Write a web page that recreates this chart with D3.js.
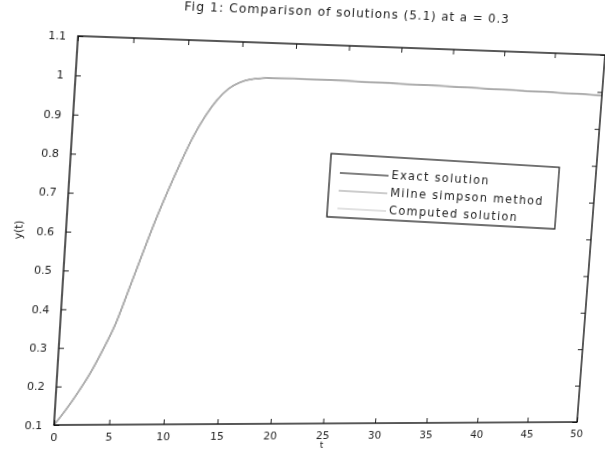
<!DOCTYPE html>
<html>
<head>
<meta charset="utf-8">
<script src="https://cdn.jsdelivr.net/npm/d3@7"></script>
<style>
html,body{margin:0;padding:0;background:#fff;overflow:hidden;width:605px;height:449px;}
#wrap{position:absolute;left:0;top:0;width:605px;height:449px;transform-origin:0 0;}
svg{overflow:visible;}
text{font-family:"DejaVu Sans",Arial,sans-serif;fill:#222;}
</style>
</head>
<body>
<div id="wrap"></div>
<script>
// ---- data ----
const tValues   = [0,1,2,3,4,5,6,7,8,9,10,11,12,13,14,15,16,18,20,22,25,30,35,40,45,50];
const exactSol  = [0.10,0.14,0.185,0.235,0.295,0.362,0.45,0.54,0.628,0.708,0.782,0.85,0.905,0.948,0.978,0.995,1.004,1.009,1.01,1.009,1.008,1.005,1.002,0.998,0.995,0.991];
const milneSol  = [0.10,0.14,0.185,0.235,0.295,0.362,0.45,0.54,0.628,0.708,0.782,0.85,0.905,0.948,0.978,0.995,1.004,1.009,1.01,1.009,1.008,1.005,1.002,0.998,0.995,0.991];
const computedSol = [0.10,0.14,0.185,0.235,0.295,0.362,0.45,0.54,0.628,0.708,0.782,0.85,0.905,0.948,0.978,0.995,1.004,1.009,1.01,1.009,1.008,1.005,1.002,0.998,0.995,0.991];
const xTicks = [0,5,10,15,20,25,30,35,40,45,50];
const yTicks = [0.1,0.2,0.3,0.4,0.5,0.6,0.7,0.8,0.9,1.0,1.1];
const seriesNames = ["Exact solution","Milne simpson method","Computed solution"];
const seriesColors = ["#000000","#9a9a9a","#c4c4c4"];
const titleText = "Fig 1: Comparison of solutions (5.1) at a = 0.3";

// ---- layout (flat, before the scan-like perspective) ----
const W = 605, H = 449;
const L = 66, R = 591, T = 40, B = 424;

const svg = d3.select("#wrap").append("svg").attr("width", W).attr("height", H);
const x = d3.scaleLinear().domain([0,50]).range([L,R]);
const y = d3.scaleLinear().domain([0.1,1.1]).range([B,T]);

// lines
const series = [exactSol, milneSol, computedSol];
const widths = [1.0, 1.3, 1.7];
const line = d3.line().x((d,i)=>x(tValues[i])).y(d=>y(d)).curve(d3.curveMonotoneX);
series.forEach((s,k)=>{
  svg.append("path").datum(s).attr("d", line)
    .attr("fill","none").attr("stroke", k===2 ? "#b0b0b0" : seriesColors[k]).attr("stroke-width", widths[k]);
});

// axes (MATLAB style, ticks inside on all sides)
const fmtY = d => d === 1 ? "1" : d3.format(".1f")(d);
const gB = svg.append("g").attr("transform",`translate(0,${B})`)
  .call(d3.axisBottom(x).tickValues(xTicks).tickSizeInner(-5).tickSizeOuter(0).tickPadding(9));
const gT = svg.append("g").attr("transform",`translate(0,${T})`)
  .call(d3.axisTop(x).tickValues(xTicks).tickSizeInner(-5).tickSizeOuter(0).tickFormat(""));
const gL = svg.append("g").attr("transform",`translate(${L},0)`)
  .call(d3.axisLeft(y).tickValues(yTicks).tickSizeInner(-5).tickSizeOuter(0).tickPadding(11).tickFormat(fmtY));
const gR = svg.append("g").attr("transform",`translate(${R},0)`)
  .call(d3.axisRight(y).tickValues(yTicks).tickSizeInner(-5).tickSizeOuter(0).tickFormat(""));
[gB,gT,gL,gR].forEach(g=>{
  g.select(".domain").remove();
  g.selectAll(".tick line").attr("stroke","#222").attr("stroke-width",1);
  g.selectAll(".tick text").attr("font-size",10.5).attr("font-family","DejaVu Sans, Arial, sans-serif").attr("fill","#222");
});
svg.append("rect").attr("x",L).attr("y",T).attr("width",R-L).attr("height",B-T)
  .attr("fill","none").attr("stroke","#111").attr("stroke-width",1.4);

// title and axis labels
svg.append("text").attr("x",327).attr("y",11).attr("text-anchor","middle")
  .attr("font-size",12).attr("letter-spacing",1).text(titleText);
svg.append("text").attr("transform","translate(25,231) rotate(-90)").attr("text-anchor","middle")
  .attr("font-size",10.5).text("y(t)");
svg.append("text").attr("x",x(25)).attr("y",B+25).attr("text-anchor","middle")
  .attr("font-size",9).text("t");

// legend
const lg = svg.append("g").attr("transform","translate(318,149) skewY(2.1)");
lg.append("rect").attr("width",234).attr("height",64).attr("fill","#fff")
  .attr("stroke","#111").attr("stroke-width",1.2);
seriesNames.forEach((n,i)=>{
  const yy = 19 + i*18;
  lg.append("line").attr("x1",10).attr("x2",59).attr("y1",yy).attr("y2",yy)
    .attr("stroke",seriesColors[i]).attr("stroke-width",1.2);
  lg.append("text").attr("x",62).attr("y",yy+3.5).attr("font-size",11.5)
    .attr("letter-spacing",1.4).text(n);
});

// ---- perspective like the scanned page ----
function homography(from, to){
  const A=[], b=[];
  for(let i=0;i<4;i++){
    const [sx,sy]=from[i], [dx,dy]=to[i];
    A.push([sx,sy,1,0,0,0,-sx*dx,-sy*dx]); b.push(dx);
    A.push([0,0,0,sx,sy,1,-sx*dy,-sy*dy]); b.push(dy);
  }
  const n=8;
  for(let c=0;c<n;c++){
    let p=c; for(let r=c+1;r<n;r++) if(Math.abs(A[r][c])>Math.abs(A[p][c])) p=r;
    [A[c],A[p]]=[A[p],A[c]]; [b[c],b[p]]=[b[p],b[c]];
    for(let r=0;r<n;r++){ if(r===c) continue;
      const f=A[r][c]/A[c][c];
      for(let k=c;k<n;k++) A[r][k]-=f*A[c][k];
      b[r]-=f*b[c];
    }
  }
  return b.map((v,i)=>v/A[i][i]);
}
const h = homography([[L,T],[R,T],[R,B],[L,B]], [[78,36],[605,55],[577,422],[54,425]]);
document.getElementById("wrap").style.transform =
  `matrix3d(${h[0]},${h[3]},0,${h[6]},${h[1]},${h[4]},0,${h[7]},0,0,1,0,${h[2]},${h[5]},0,1)`;
</script>
</body>
</html>
